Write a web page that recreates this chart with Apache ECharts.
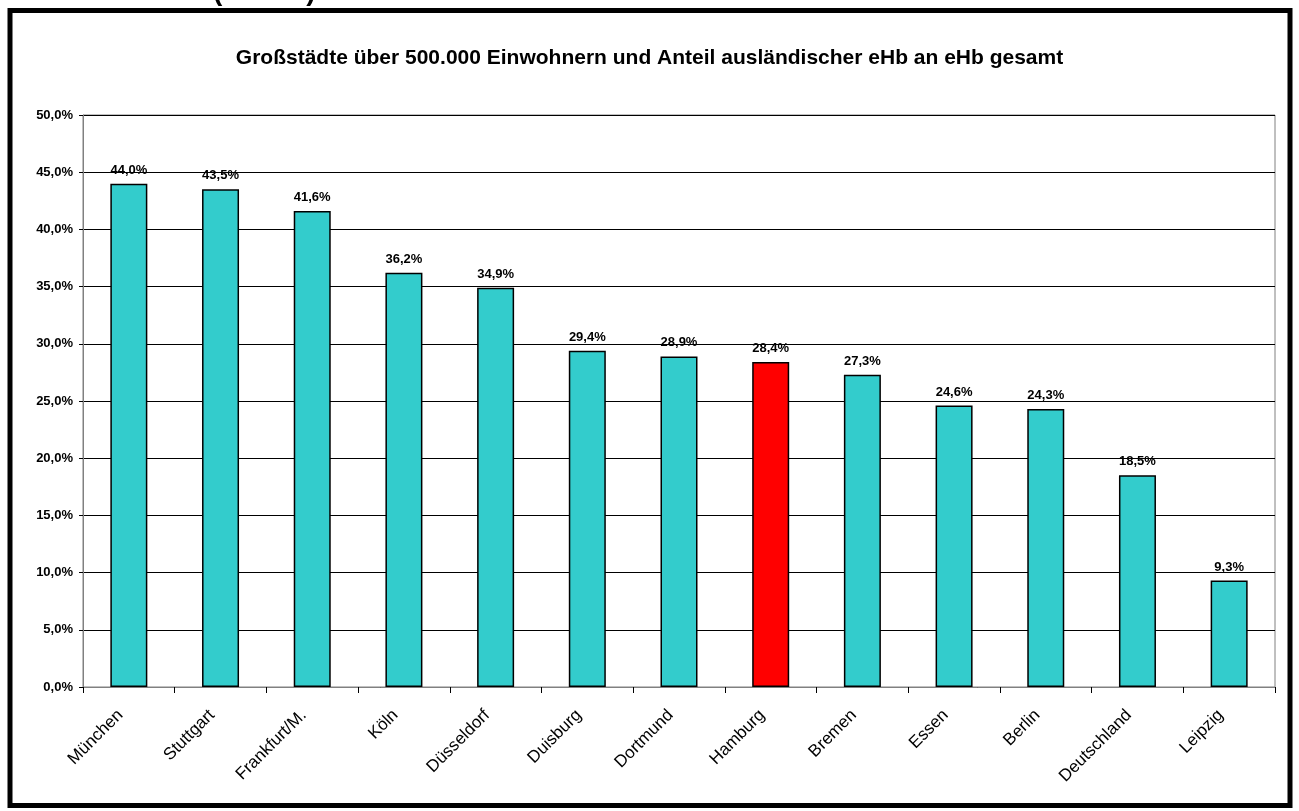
<!DOCTYPE html>
<html>
<head>
<meta charset="utf-8">
<script src="https://cdn.jsdelivr.net/npm/echarts@6/dist/echarts.min.js"></script>
<style>
  html, body { margin: 0; padding: 0; background: #fff; }
  #chart { width: 1299px; height: 811px; }
</style>
</head>
<body>
<div id="chart"></div>
<script>
// values
var cities = ["München", "Stuttgart", "Frankfurt/M.", "Köln", "Düsseldorf", "Duisburg",
    "Dortmund", "Hamburg", "Bremen", "Essen", "Berlin", "Deutschland", "Leipzig"];
var shares = [44.0, 43.5, 41.6, 36.2, 34.9, 29.4, 28.9, 28.4, 27.3, 24.6, 24.3, 18.5, 9.3];
var highlightCity = "Hamburg";

var fmt = function (v) {
    return Number(v).toFixed(1).replace(".", ",") + "%";
};

var chart = echarts.init(document.getElementById("chart"));
chart.setOption({
    animation: false,
    textStyle: { fontFamily: "Liberation Sans, Arial, sans-serif" },
    title: {
        text: "Großstädte über 500.000 Einwohnern und Anteil ausländischer eHb an eHb gesamt",
        left: "center",
        top: 43,
        textStyle: { fontSize: 21, fontWeight: "bold", color: "#000" }
    },
    graphic: [
        {
            type: "rect",
            shape: { x: 10, y: 10.5, width: 1280, height: 795 },
            style: { fill: "none", stroke: "#000", lineWidth: 5 },
            z: 100
        },
        {
            type: "text",
            left: 213,
            top: -22,
            style: { text: "(SGB II)", fontSize: 28, fontWeight: "bold", fill: "#000",
                     fontFamily: "Liberation Sans, Arial, sans-serif" }
        }
    ],
    grid: {
        left: 83, right: 24, top: 115, bottom: 124,
        show: true, borderColor: "#808080", borderWidth: 1, backgroundColor: "transparent"
    },
    xAxis: {
        type: "category",
        data: cities,
        axisLine: { lineStyle: { color: "#808080", width: 1 } },
        axisTick: { show: true, length: 6, lineStyle: { color: "#000" } },
        axisLabel: { rotate: 45, fontSize: 17, color: "#000", margin: 17, interval: 0,
                     padding: [0, 12, 0, 0] }
    },
    yAxis: {
        type: "value",
        min: 0, max: 50, interval: 5,
        axisLine: { show: true, lineStyle: { color: "#808080", width: 1 } },
        axisTick: { show: true, length: 4, lineStyle: { color: "#000" } },
        axisLabel: { formatter: fmt, fontSize: 13, fontWeight: "bold", color: "#000", margin: 10 },
        splitLine: { lineStyle: { color: "#000", width: 1 } }
    },
    series: [{
        type: "bar",
        barWidth: 37,
        data: shares.map(function (v, i) {
            return {
                value: v,
                itemStyle: { color: cities[i] === highlightCity ? "#FF0000" : "#33CCCC" }
            };
        }),
        itemStyle: { borderColor: "#000", borderWidth: 1.5 },
        label: {
            show: true, position: "top", distance: 7,
            formatter: function (p) { return fmt(p.value); },
            fontSize: 13, fontWeight: "bold", color: "#000"
        }
    }]
});
</script>
</body>
</html>
